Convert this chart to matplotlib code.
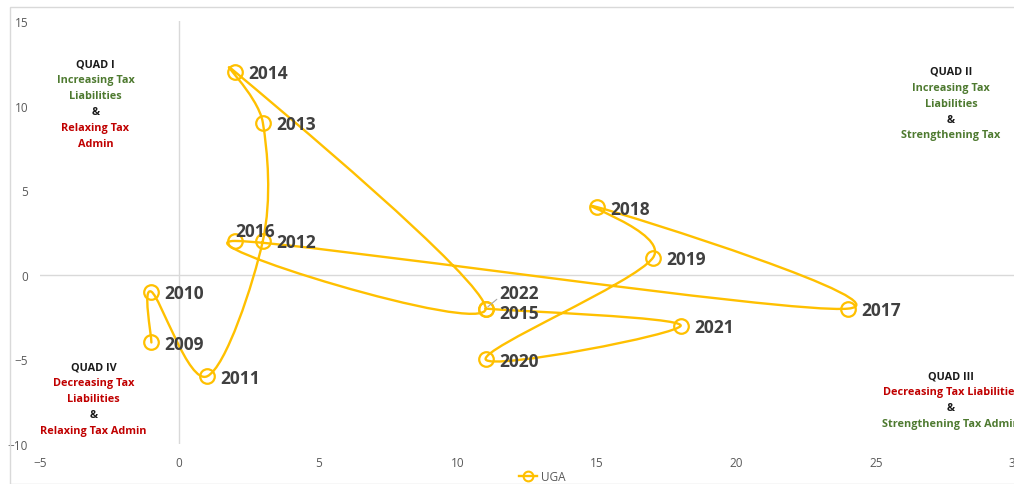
import matplotlib
matplotlib.use("Agg")
import matplotlib.pyplot as plt
from matplotlib.path import Path
from matplotlib.patches import PathPatch, Rectangle
from matplotlib.lines import Line2D
import numpy as np

plt.rcParams['font.family'] = ['Open Sans', 'DejaVu Sans']

# Uganda: tax administration score (x) vs tax liability score (y), by year
years = [2009, 2010, 2011, 2012, 2013, 2014, 2015, 2016, 2017, 2018, 2019, 2020, 2021, 2022]
admin_score = [-1, -1, 1, 3, 3, 2, 11, 2, 24, 15, 17, 11, 18, 11]
liability_score = [-4, -1, -6, 2, 9, 12, -2, 2, -2, 4, 1, -5, -3, -2]
series_name = "UGA"

x_ticks = [-5, 0, 5, 10, 15, 20, 25, 30]
y_ticks = [-10, -5, 0, 5, 10, 15]

YELLOW = "#FFC000"
GREEN = "#4E7A30"
RED = "#C00000"
DARK = "#1A1A1A"
LABEL = "#404040"
TICK = "#595959"

fig = plt.figure(figsize=(10.14, 4.85), dpi=100)
ax = fig.add_axes([0.0394, 0.0825, 0.9616, 0.8721])
ax.set_xlim(-5, 30)
ax.set_ylim(-10, 15)
for s in ax.spines.values():
    s.set_visible(False)
ax.set_xticks(x_ticks)
ax.set_yticks(y_ticks)
ax.tick_params(length=0, labelsize=8.5, labelcolor=TICK)
ax.tick_params(axis='y', pad=8.5)
ax.tick_params(axis='x', pad=9)

# axis lines crossing at the origin
ax.axhline(0, color="#D9D9D9", lw=1.0, zorder=1)
ax.axvline(0, color="#D9D9D9", lw=1.0, zorder=1)

# chart border
fig.patches.append(Rectangle((10 / 1014, 0.0), 1.0, 1 - 8 / 485, transform=fig.transFigure,
                             fill=False, edgecolor="#D9D9D9", lw=1.0))

# smoothed connecting line: cardinal spline built in screen space, with each
# control arm limited to half of its segment's length
pts = ax.transData.transform(np.column_stack([admin_score, liability_score]).astype(float))
n = len(pts)


def arm(prev_pt, next_pt, seg_len):
    d = next_pt - prev_pt
    L = np.hypot(*d)
    if L == 0:
        return np.zeros(2)
    f = 1.0 / 6.0
    if L * f > seg_len / 2.0:
        f = seg_len / (2.0 * L)
    return d * f


verts = [pts[0]]
codes = [Path.MOVETO]
for i in range(n - 1):
    p0 = pts[i - 1] if i > 0 else pts[i]
    p1 = pts[i]
    p2 = pts[i + 1]
    p3 = pts[i + 2] if i + 2 < n else pts[i + 1]
    seg = np.hypot(*(p2 - p1))
    c1 = p1 + arm(p0, p2, seg)
    c2 = p2 - arm(p1, p3, seg)
    verts += [c1, c2, p2]
    codes += [Path.CURVE4] * 3
verts = ax.transData.inverted().transform(np.array(verts))
ax.add_patch(PathPatch(Path(verts, codes), fill=False, edgecolor=YELLOW, lw=1.7, zorder=3,
                       capstyle='round', joinstyle='round'))
ax.plot(admin_score, liability_score, linestyle='none', marker='o', markersize=10.5,
        markerfacecolor='none', markeredgecolor=YELLOW, markeredgewidth=1.6, zorder=4)

# year labels
special = {2016: (0.5, 7.5), 2022: (10, 11), 2015: (10, -3.5)}
for yr, xv, yv in zip(years, admin_score, liability_score):
    off = special.get(yr, (9.5, -1))
    kw = {}
    if yr == 2022:
        kw['arrowprops'] = dict(arrowstyle='-', color="#A6A6A6", lw=0.8, shrinkA=0, shrinkB=2,
                                relpos=(0.0, 0.3))
    ax.annotate(str(yr), (xv, yv), xytext=off, textcoords='offset points',
                ha='left', va='center', fontsize=12.5, fontweight='bold', color=LABEL, zorder=5, **kw)

# quadrant descriptions
def quad_text(x, y, lines):
    for i, (txt, col) in enumerate(lines):
        ax.annotate(txt, (x, y), xytext=(0, -i * 11.5), textcoords='offset points',
                    ha='center', va='center', fontsize=7.8, fontweight='bold', color=col,
                    annotation_clip=False, zorder=5)

quad_text(-3.01, 12.46, [("QUAD I", DARK), ("Increasing Tax", GREEN), ("Liabilities", GREEN),
                         ("&", DARK), ("Relaxing Tax", RED), ("Admin", RED)])
quad_text(27.70, 12.04, [("QUAD II", DARK), ("Increasing Tax", GREEN), ("Liabilities", GREEN),
                         ("&", DARK), ("Strengthening Tax", GREEN)])
quad_text(-3.07, -5.45, [("QUAD IV", DARK), ("Decreasing Tax", RED), ("Liabilities", RED),
                         ("&", DARK), ("Relaxing Tax Admin", RED)])
quad_text(27.70, -5.98, [("QUAD III", DARK), ("Decreasing Tax Liabilities", RED),
                         ("&", DARK), ("Strengthening Tax Admin", GREEN)])

# legend
handle = Line2D([], [], color=YELLOW, lw=1.7, marker='o', markersize=7,
                markerfacecolor='none', markeredgecolor=YELLOW, markeredgewidth=1.5)
fig.legend([handle], [series_name], loc='center', bbox_to_anchor=(542 / 1014, 1 - 478 / 485),
           frameon=False, fontsize=8.5, handlelength=1.6, handletextpad=0.3,
           labelcolor=TICK, borderpad=0)

fig.savefig("out.png", dpi=100)
